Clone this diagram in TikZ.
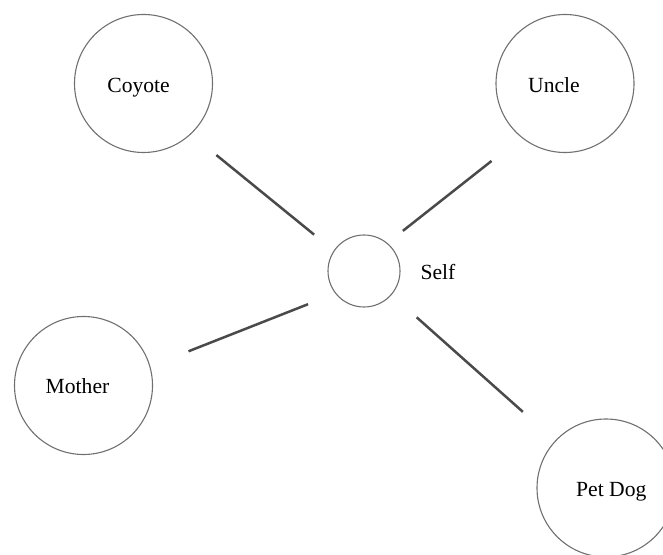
\documentclass[tikz,border=0pt]{standalone}
\usepackage{fontspec}
\setmainfont{Liberation Serif}
\definecolor{ringgray}{HTML}{707070}
\definecolor{linegray}{HTML}{4A4A4A}
\begin{document}
\begin{tikzpicture}[x=0.5pt,y=-0.5pt,
  ring/.style={circle,draw=ringgray,line width=0.55pt,inner sep=0pt,minimum size=#1},
  ring/.default=69pt,
  lbl/.style={font=\fontsize{10.8}{13}\selectfont,inner sep=0pt,anchor=base},
  link/.style={draw=linegray,line width=1.25pt}]
\useasboundingbox (0,0) rectangle (663,555);
\node[ring] (coy) at (143.5,83.5) {};
\node[ring] (unc) at (565,83.5) {};
\node[ring=36pt] (self) at (364,271) {};
\node[ring] (mot) at (83.5,385.5) {};
\node[ring] (dog) at (606,488) {};
\node[lbl] (coyt) at (138.6,92.3) {Coyote};
\node[lbl] (unct) at (554,92.7) {Uncle};
\node[lbl] (selft) at (438,280) {Self};
\node[lbl] (mott) at (77.5,393.6) {Mother};
\node[lbl] (dogt) at (611.3,496.5) {Pet Dog};
\draw[link,shorten <=16.4pt,shorten >=12.6pt] (coy.-47.2) -- (self.146.5);
\draw[link,shorten <=18.9pt,shorten >=9.8pt] (unc.231.8) -- (self.50.2);
\draw[link,shorten <=20.5pt,shorten >=14.6pt] (mot.16.6) -- (self.218.4);
\draw[link,shorten <=16.8pt,shorten >=21.6pt] (self.-41.1) -- (dog.137.7);
\end{tikzpicture}
\end{document}
